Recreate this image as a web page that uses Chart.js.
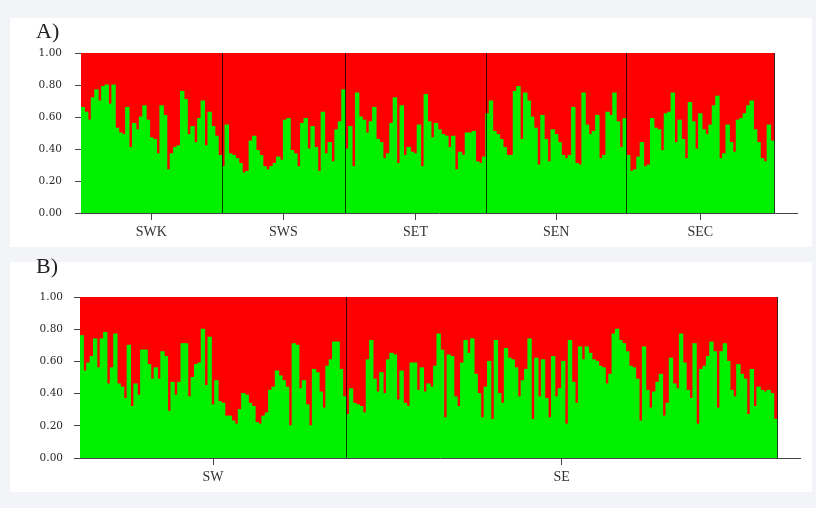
<!DOCTYPE html>
<html>
<head>
<meta charset="utf-8">
<title>Structure plot</title>
<script src="https://cdn.jsdelivr.net/npm/chart.js"></script>
<style>
  body{
    margin:0;
    background:#f3f4f8;
    width:816px;
    height:508px;
    overflow:hidden;
    position:relative;
    font-family:"Liberation Serif", serif;
  }
  .panel{
    position:absolute;
    left:10px;
    width:802px;
    background:#fff;
  }
  #panelA{ top:18px; height:229px; }
  #panelB{ top:262px; height:230px; }
  .tag{
    position:absolute;
    left:36px;
    font-size:22px;
    color:#222;
  }
</style>
</head>
<body>
<div class="panel" id="panelA"><canvas id="chartA"></canvas></div>
<div class="panel" id="panelB"><canvas id="chartB"></canvas></div>
<div class="tag" style="top:18px">A)</div>
<div class="tag" style="top:253px">B)</div>
<script>
// green share (cluster 1) per individual; red = 1 - green
var groupsA = ['SWK', 'SWS', 'SET', 'SEN', 'SEC'];
var swk = [0.66, 0.63, 0.58, 0.72, 0.77, 0.70, 0.79, 0.80, 0.68, 0.80, 0.53, 0.50, 0.49, 0.66, 0.41, 0.56, 0.52, 0.60, 0.67, 0.58,
           0.47, 0.46, 0.37, 0.67, 0.61, 0.27, 0.37, 0.41, 0.42, 0.76, 0.71, 0.49, 0.54, 0.44, 0.59, 0.70, 0.42, 0.63, 0.54, 0.48, 0.36];
var sws = [0.29, 0.55, 0.37, 0.36, 0.34, 0.31, 0.25, 0.26, 0.45, 0.48, 0.39, 0.36, 0.29, 0.27, 0.29, 0.31, 0.35, 0.33, 0.58, 0.59,
           0.39, 0.37, 0.29, 0.56, 0.59, 0.40, 0.54, 0.41, 0.26, 0.63, 0.37, 0.44, 0.32, 0.52, 0.57, 0.77];
var set = [0.40, 0.54, 0.29, 0.75, 0.60, 0.58, 0.50, 0.57, 0.66, 0.46, 0.44, 0.34, 0.37, 0.56, 0.72, 0.31, 0.67, 0.36, 0.41, 0.38,
           0.37, 0.55, 0.29, 0.74, 0.57, 0.47, 0.56, 0.52, 0.49, 0.48, 0.41, 0.48, 0.27, 0.38, 0.36, 0.50, 0.50, 0.51, 0.32, 0.31, 0.35];
var sen = [0.62, 0.70, 0.51, 0.49, 0.46, 0.41, 0.36, 0.36, 0.76, 0.79, 0.46, 0.75, 0.70, 0.60, 0.53, 0.30, 0.61, 0.46, 0.32, 0.52,
           0.49, 0.44, 0.36, 0.34, 0.36, 0.66, 0.31, 0.30, 0.75, 0.55, 0.49, 0.51, 0.61, 0.34, 0.36, 0.63, 0.61, 0.75, 0.57, 0.41, 0.59];
var sec = [0.36, 0.26, 0.27, 0.35, 0.44, 0.29, 0.30, 0.59, 0.53, 0.52, 0.39, 0.62, 0.63, 0.75, 0.44, 0.58, 0.46, 0.34, 0.69, 0.57,
           0.40, 0.62, 0.52, 0.49, 0.55, 0.67, 0.73, 0.34, 0.37, 0.55, 0.44, 0.38, 0.58, 0.59, 0.62, 0.67, 0.70, 0.52, 0.44, 0.34,
           0.32, 0.55, 0.45];

var groupsB = ['SW', 'SE'];
var sw = [0.76, 0.54, 0.59, 0.63, 0.74, 0.56, 0.74, 0.78, 0.46, 0.56, 0.77, 0.46, 0.44, 0.37, 0.70, 0.32, 0.46, 0.39, 0.67, 0.67,
          0.58, 0.49, 0.56, 0.49, 0.66, 0.63, 0.29, 0.47, 0.39, 0.47, 0.71, 0.71, 0.38, 0.50, 0.58, 0.59, 0.80, 0.45, 0.75, 0.33,
          0.48, 0.35, 0.34, 0.26, 0.26, 0.23, 0.21, 0.30, 0.40, 0.39, 0.34, 0.32, 0.22, 0.21, 0.26, 0.28, 0.42, 0.44, 0.54, 0.51,
          0.48, 0.44, 0.20, 0.71, 0.70, 0.43, 0.48, 0.33, 0.20, 0.55, 0.53, 0.41, 0.31, 0.57, 0.61, 0.72, 0.72, 0.55, 0.38];
var se = [0.27, 0.43, 0.34, 0.33, 0.32, 0.28, 0.61, 0.73, 0.49, 0.41, 0.53, 0.40, 0.61, 0.65, 0.64, 0.36, 0.54, 0.34, 0.32, 0.59,
          0.59, 0.42, 0.56, 0.41, 0.46, 0.44, 0.57, 0.77, 0.67, 0.25, 0.64, 0.63, 0.38, 0.32, 0.59, 0.73, 0.65, 0.74, 0.52, 0.40,
          0.25, 0.44, 0.60, 0.24, 0.73, 0.40, 0.34, 0.68, 0.62, 0.61, 0.56, 0.38, 0.48, 0.55, 0.74, 0.24, 0.62, 0.38, 0.61, 0.37,
          0.25, 0.63, 0.38, 0.43, 0.60, 0.21, 0.73, 0.47, 0.34, 0.69, 0.61, 0.69, 0.65, 0.61, 0.60, 0.57, 0.56, 0.46, 0.52, 0.77,
          0.80, 0.73, 0.71, 0.66, 0.57, 0.56, 0.49, 0.23, 0.69, 0.42, 0.31, 0.41, 0.47, 0.52, 0.26, 0.34, 0.62, 0.46, 0.43, 0.77,
          0.59, 0.42, 0.37, 0.71, 0.21, 0.55, 0.57, 0.63, 0.72, 0.66, 0.31, 0.66, 0.71, 0.60, 0.42, 0.38, 0.58, 0.52, 0.49, 0.27,
          0.55, 0.32, 0.44, 0.42, 0.41, 0.42, 0.40, 0.24];

var yTicks = [0, 0.2, 0.4, 0.6, 0.8, 1.0];

// vertical lines between populations
var dividers = {
  id: 'dividers',
  afterDatasetsDraw(chart, args, opts) {
    var ctx = chart.ctx, area = chart.chartArea, x = chart.scales.x;
    ctx.save();
    ctx.strokeStyle = opts.color;
    ctx.lineWidth = 1;
    opts.at.forEach(function(v) {
      var px = Math.round(x.getPixelForValue(v)) + 0.5;
      ctx.beginPath();
      ctx.moveTo(px, area.top);
      ctx.lineTo(px, area.bottom);
      ctx.stroke();
    });
    ctx.restore();
  }
};

function buildPanel(id, groups, series, cfg) {
  var green = [].concat.apply([], series);
  var starts = [], n = 0;
  series.forEach(function(s) { starts.push(n); n += s.length; });
  var centers = series.map(function(s, i) { return starts[i] + (s.length - 1) / 2; });
  var bounds = series.map(function(s, i) { return starts[i] + s.length - 0.5; });

  new Chart(document.getElementById(id), {
    type: 'bar',
    data: {
      datasets: [{
        data: green.map(function(v, i) { return {x: i, y: v}; }),
        backgroundColor: '#00f000'
      }, {
        data: green.map(function(v, i) { return {x: i, y: +(1 - v).toFixed(3)}; }),
        backgroundColor: '#ff0000'
      }]
    },
    options: {
      animation: false,
      responsive: true,
      maintainAspectRatio: false,
      layout: { padding: { top: cfg.top, right: cfg.right, left: 0, bottom: 0 } },
      datasets: { bar: { barPercentage: 1, categoryPercentage: 1, borderWidth: 0, inflateAmount: 0.5 } },
      plugins: {
        legend: { display: false },
        tooltip: { enabled: false },
        dividers: { at: bounds, color: 'rgba(0,0,0,0.75)' }
      },
      scales: {
        x: {
          type: 'linear',
          stacked: true,
          offset: false,
          min: -0.5,
          max: cfg.xMax,
          afterBuildTicks: function(s) { s.ticks = centers.map(function(v) { return {value: v}; }); },
          afterFit: function(s) { s.height = cfg.xh; },
          ticks: {
            autoSkip: false,
            maxRotation: 0,
            padding: 4,
            color: '#333',
            font: { family: 'Liberation Serif', size: 14 },
            callback: function(v, i) { return groups[i]; }
          },
          grid: { drawOnChartArea: false, offset: false, tickLength: 7, color: '#444' },
          border: { color: '#444' }
        },
        y: {
          stacked: true,
          min: 0,
          max: 1,
          afterBuildTicks: function(s) { s.ticks = yTicks.map(function(v) { return {value: v}; }); },
          afterFit: function(s) { s.width = cfg.yw; },
          ticks: {
            padding: cfg.pad,
            color: '#2a2a2a',
            font: { family: 'DejaVu Serif', size: 10.5 },
            callback: function(v) { return v.toFixed(2); }
          },
          grid: { drawOnChartArea: false, tickLength: 6, color: '#444' },
          border: { color: '#444' }
        }
      }
    },
    plugins: [dividers]
  });
}

buildPanel('chartA', groupsA, [swk, sws, set, sen, sec], { top: 35, right: 15, yw: 71, xh: 34, pad: 13, xMax: 208.2 });
buildPanel('chartB', groupsB, [sw, se], { top: 35, right: 12, yw: 70, xh: 34, pad: 11, xMax: 213.3 });
</script>
</body>
</html>
